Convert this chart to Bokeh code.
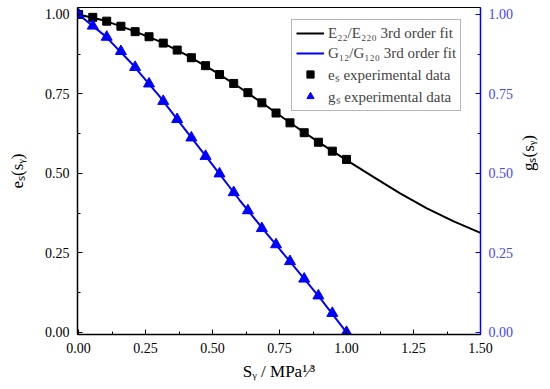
import math
from bokeh.plotting import figure
from bokeh.models import (Range1d, LinearAxis, SingleIntervalTicker, Legend, LegendItem,
                          PrintfTickFormatter)
from bokeh.embed import file_html
from bokeh.resources import INLINE

# ---- data ----
x_exp = [0.0, 0.053, 0.105, 0.158, 0.211, 0.263, 0.316, 0.368, 0.421, 0.474,
         0.526, 0.579, 0.632, 0.684, 0.737, 0.789, 0.842, 0.895, 0.947, 1.0]
e_exp = [1.0, 0.991, 0.979, 0.963, 0.946, 0.930, 0.910, 0.888, 0.864, 0.839,
         0.811, 0.783, 0.754, 0.722, 0.690, 0.659, 0.628, 0.598, 0.570, 0.544]
g_exp = [1.0, 0.964, 0.929, 0.884, 0.834, 0.782, 0.727, 0.670, 0.612, 0.554,
         0.499, 0.440, 0.383, 0.327, 0.276, 0.223, 0.168, 0.115, 0.060, 0.0]

x_efit = [0.0, 0.1, 0.2, 0.3, 0.4, 0.5, 0.6, 0.7, 0.8, 0.9, 1.0,
          1.1, 1.2, 1.3, 1.4, 1.5]
e_fit = [1.0, 0.980, 0.950, 0.916, 0.874, 0.825, 0.771, 0.713, 0.653, 0.596, 0.542,
         0.489, 0.437, 0.390, 0.349, 0.313]
x_gfit = [0.0, 0.1, 0.2, 0.3, 0.4, 0.5, 0.6, 0.7, 0.8, 0.9, 1.0]
g_fit = [1.0, 0.932, 0.844, 0.745, 0.635, 0.527, 0.417, 0.313, 0.211, 0.109, 0.0]

legend_labels = ["E\u2082\u2082/E\u2082\u2082\u2080 3rd order fit",
                 "G\u2081\u2082/G\u2081\u2082\u2080 3rd order fit",
                 "e\u209b experimental data",
                 "g\u209b experimental data"]
x_label = "S\u1d67 / MPa\u00b9\u2044\u00b3"
y_left_label = "e\u209b(s\u1d67)"
y_right_label = "g\u209b(s\u1d67)"

SERIF = "Liberation Serif"
BLUE = "#0000ff"

p = figure(width=550, height=389, output_backend="svg", toolbar_location=None,
           x_range=Range1d(-0.004, 1.5), y_range=Range1d(-0.007, 1.022),
           min_border_left=77, min_border_right=69, min_border_top=7, min_border_bottom=55)
p.xgrid.visible = False
p.ygrid.visible = False
p.outline_line_color = "black"
p.outline_line_width = 1
p.background_fill_color = "white"
p.border_fill_color = "white"

p.extra_y_ranges = {"right": Range1d(-0.007, 1.022)}

def style_axis(ax, color, label_color):
    ax.ticker = SingleIntervalTicker(interval=0.25, num_minor_ticks=2)
    ax.formatter = PrintfTickFormatter(format="%.2f")
    ax.major_tick_in = 5
    ax.major_tick_out = 0
    ax.minor_tick_in = 3
    ax.minor_tick_out = 0
    ax.axis_line_color = color
    ax.major_tick_line_color = color
    ax.minor_tick_line_color = color
    ax.axis_line_width = 1.5
    ax.major_label_text_font = SERIF
    ax.major_label_text_font_size = "14px"
    ax.major_label_text_color = label_color
    ax.major_label_standoff = 8
    ax.axis_label_text_font = SERIF
    ax.axis_label_text_font_size = "17px"
    ax.axis_label_text_font_style = "normal"
    ax.axis_label_text_color = "black"

for ax in (p.xaxis[0], p.yaxis[0]):
    style_axis(ax, "black", "black")
p.xaxis[0].axis_label = x_label
p.xaxis[0].axis_label_standoff = 6
p.yaxis[0].axis_label = y_left_label
p.yaxis[0].axis_label_standoff = 15

ax_r = LinearAxis(y_range_name="right")
style_axis(ax_r, BLUE, "#4646f0")
ax_r.axis_label = y_right_label
ax_r.axis_label_standoff = 12
ax_r.axis_label_orientation = math.pi / 2
p.add_layout(ax_r, "right")

r1 = p.line(x_efit, e_fit, line_color="black", line_width=2)
r2 = p.line(x_gfit, g_fit, line_color=BLUE, line_width=2)
r3 = p.scatter(x_exp, e_exp, marker="square", size=8, fill_color="black", line_color="black")
r4 = p.scatter(x_exp, g_exp, marker="triangle", size=11, fill_color=BLUE, line_color=BLUE,
               y_range_name="right")

legend = Legend(items=[LegendItem(label=legend_labels[0], renderers=[r1]),
                       LegendItem(label=legend_labels[1], renderers=[r2]),
                       LegendItem(label=legend_labels[2], renderers=[r3]),
                       LegendItem(label=legend_labels[3], renderers=[r4])],
                location=(214, 223))
legend.label_text_font = SERIF
legend.label_text_font_size = "15px"
legend.glyph_width = 28
legend.glyph_height = 18
legend.label_height = 18
legend.spacing = 2
legend.padding = 4
legend.margin = 0
legend.label_standoff = 4
legend.border_line_color = "#6e6e6e"
legend.border_line_width = 1
legend.background_fill_alpha = 1
p.add_layout(legend, "center")

open("out.html", "w").write(file_html(p, INLINE))
